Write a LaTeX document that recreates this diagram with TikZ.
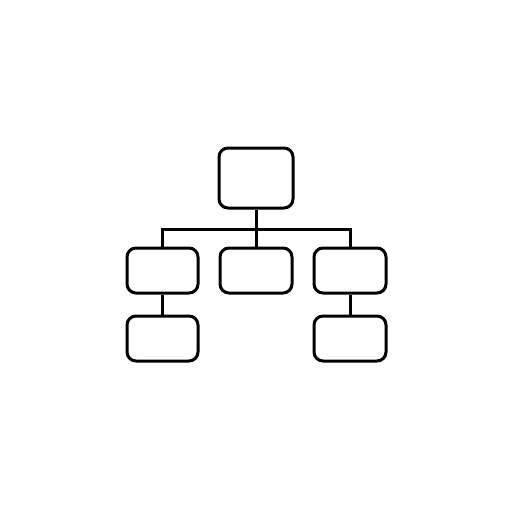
\documentclass[tikz,border=0pt]{standalone}
\begin{document}
\begin{tikzpicture}[x=1pt,y=-1pt,
  box/.style={draw=black,line width=3pt,rounded corners=9pt,inner sep=0pt,minimum height=45pt,minimum width=72pt},
  link/.style={draw=black,line width=3pt}]
\useasboundingbox (0,0) rectangle (512,512);
\fill[white] (0,0) rectangle (512,512);
\node[box,minimum width=74pt,minimum height=60pt] (top) at (256,178) {};
\node[box,minimum width=71pt] (m1) at (162.5,270.5) {};
\node[box] (m2) at (256,270.5) {};
\node[box] (m3) at (350,270.5) {};
\node[box,minimum width=71pt] (b1) at (162.5,338.5) {};
\node[box] (b3) at (350,338.5) {};
\coordinate (j) at (256,229);
\draw[link] (top.south) -- (m2.north);
\draw[link] (m1.north) -- (m1.north |- j) -- (m3.north |- j) -- (m3.north);
\draw[link] (m1.south) -- (b1.north);
\draw[link] (m3.south) -- (b3.north);
\end{tikzpicture}
\end{document}
